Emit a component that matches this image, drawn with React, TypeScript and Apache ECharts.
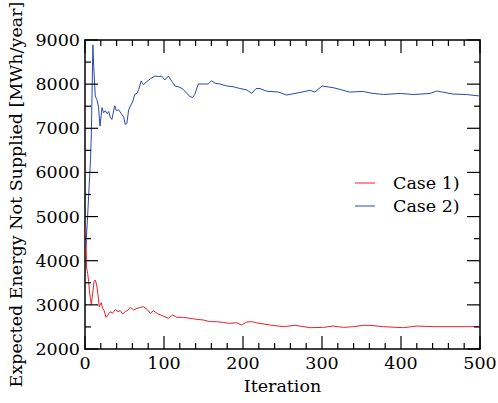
import React, { useEffect, useRef } from "react";
import * as echarts from "echarts";

const case1Iter = [1, 2, 3.4, 4.6, 5.5, 6.8, 8, 9.7, 11.4, 13, 14.8, 16.5, 18, 20.6, 22.3, 24, 26.6, 29, 32, 35, 38.4, 41.8, 44.7, 47.7, 51, 54.4, 57.4, 61.6, 65.8, 70, 74.3, 78.5, 82.7, 86.5, 92.8, 99, 105.5, 111, 116, 124.4, 133, 141.4, 149.7, 158, 166.7, 175, 183.5, 192, 198, 204.7, 211, 217, 221.5, 234, 251, 266, 285, 302, 314, 327, 340, 352, 361, 378, 403, 420, 441, 462, 483, 500];
const case1Val = [4770, 3835, 3715, 3525, 3337, 3150, 3000, 3262, 3525, 3563, 3450, 3225, 2960, 3050, 2920, 2883, 2717, 2770, 2846, 2810, 2898, 2846, 2870, 2795, 2846, 2883, 2943, 2883, 2920, 2943, 2958, 2898, 2808, 2868, 2790, 2747, 2695, 2770, 2717, 2717, 2695, 2672, 2657, 2620, 2620, 2600, 2581, 2595, 2544, 2610, 2620, 2595, 2580, 2544, 2506, 2536, 2483, 2490, 2520, 2490, 2506, 2536, 2536, 2506, 2483, 2520, 2506, 2506, 2506, 2506];

const case2Iter = [1, 3, 5, 7, 8, 10, 11, 13, 15, 17, 19, 21.5, 23.5, 25.7, 28, 30, 32, 34, 37.6, 39.7, 42.6, 46, 49, 51, 53, 55.3, 57.4, 60.3, 63, 65.8, 68, 71, 74, 78.5, 82.7, 88.6, 92.8, 97, 101, 105.5, 110, 114, 120, 124.4, 128.7, 133, 136.3, 139, 143.4, 149.7, 156, 160.3, 164.6, 171, 179, 188, 196, 204.7, 211, 216.5, 221.5, 230, 245, 255, 272, 285, 291, 300, 314, 323, 335, 352, 361, 378, 399, 416, 437, 445, 454, 466, 483, 500];
const case2Val = [4300, 4900, 5600, 6300, 6850, 8890, 8400, 7730, 7650, 7500, 7050, 7470, 7350, 7400, 7330, 7380, 7250, 7200, 7510, 7400, 7420, 7330, 7250, 7090, 7110, 7420, 7500, 7600, 7770, 7790, 7880, 8070, 7990, 8060, 8120, 8185, 8170, 8185, 8094, 8185, 8060, 7958, 7930, 7880, 7792, 7717, 7700, 7770, 8003, 8003, 8003, 8077, 8020, 8003, 7960, 7940, 7902, 7870, 7792, 7900, 7900, 7840, 7820, 7754, 7810, 7860, 7820, 7958, 7920, 7880, 7820, 7835, 7800, 7765, 7790, 7765, 7790, 7845, 7815, 7775, 7765, 7730];

const seriesNames = ["Case 1)", "Case 2)"];
const xTitle = "Iteration";
const yTitle = "Expected Energy Not Supplied [MWh/year]";
const xRange = [0, 500, 100];
const yRange = [2000, 9000, 1000];
const xMinorStep = 20;
const yMinorStep = 500;

export default function App() {
  const ref = useRef<HTMLDivElement>(null);
  useEffect(() => {
    if (!ref.current) return;
    const chart = echarts.init(ref.current, null, { renderer: "svg" });
    const font = "DejaVu Serif";
    const label = { color: "#000", fontFamily: font, fontSize: 17.5 };
    const fmt = (v: number) => String(v);
    const MAJOR = 13, MINOR = 6;

    // inward tick marks: [value, side(0 bottom,1 top,2 left,3 right), length]
    const tickData: number[][] = [];
    for (let v = xRange[0]; v <= xRange[1]; v += xMinorStep) {
      const len = v % xRange[2] === 0 ? MAJOR : MINOR;
      tickData.push([v, 0, len], [v, 1, len]);
    }
    for (let v = yRange[0]; v <= yRange[1]; v += yMinorStep) {
      const len = v % yRange[2] === 0 ? MAJOR : MINOR;
      tickData.push([v, 2, len], [v, 3, len]);
    }

    const frameAxis = (position: string, range: number[], withLabels: boolean) => ({
      type: "value", min: range[0], max: range[1], interval: range[2], position,
      axisLine: { show: true, onZero: false, lineStyle: { color: "#000", width: 1.5 } },
      axisTick: { show: false }, minorTick: { show: false }, splitLine: { show: false },
      axisLabel: withLabels ? { ...label, margin: 5, formatter: fmt } : { show: false },
    });

    chart.setOption({
      animation: false,
      backgroundColor: "#fff",
      grid: { left: 85, right: 18, top: 40, bottom: 54, containLabel: false, outerBoundsMode: "none" },
      legend: {
        orient: "vertical",
        left: 350,
        top: 167,
        icon: "rect",
        itemWidth: 20,
        itemHeight: 1,
        itemGap: 1,
        textStyle: { color: "#000", fontFamily: font, fontSize: 17.5, lineHeight: 22, padding: [0, 0, 0, 13] },
        data: seriesNames,
      },
      xAxis: [
        {
          ...frameAxis("bottom", xRange, true),
          name: xTitle, nameLocation: "middle", nameGap: 25,
          nameTextStyle: { ...label },
        },
        frameAxis("top", xRange, false),
      ],
      yAxis: [
        {
          ...frameAxis("left", yRange, true),
          name: yTitle, nameLocation: "middle", nameGap: 57,
          nameTextStyle: { ...label },
        },
        frameAxis("right", yRange, false),
      ],
      series: [
        {
          name: seriesNames[0], type: "line", symbol: "none", showSymbol: false,
          xAxisIndex: 0, yAxisIndex: 0,
          data: case1Iter.map((x, i) => [x, case1Val[i]]),
          lineStyle: { color: "#e8202f", width: 1 }, itemStyle: { color: "#e8202f" },
        },
        {
          name: seriesNames[1], type: "line", symbol: "none", showSymbol: false,
          xAxisIndex: 0, yAxisIndex: 0,
          data: case2Iter.map((x, i) => [x, case2Val[i]]),
          lineStyle: { color: "#2b48b0", width: 1 }, itemStyle: { color: "#2b48b0" },
        },
        {
          name: "ticks", type: "custom", xAxisIndex: 0, yAxisIndex: 0, clip: false,
          silent: true, z: 5,
          data: tickData,
          renderItem: (_params: any, api: any) => {
            const v = api.value(0);
            const side = api.value(1);
            const len = api.value(2);
            let x1 = 0, y1 = 0, x2 = 0, y2 = 0;
            if (side === 0 || side === 1) {
              const p = api.coord([v, side === 0 ? yRange[0] : yRange[1]]);
              x1 = x2 = p[0];
              y1 = p[1];
              y2 = side === 0 ? p[1] - len : p[1] + len;
            } else {
              const p = api.coord([side === 2 ? xRange[0] : xRange[1], v]);
              y1 = y2 = p[1];
              x1 = p[0];
              x2 = side === 2 ? p[0] + len : p[0] - len;
            }
            return {
              type: "line",
              shape: { x1, y1, x2, y2 },
              style: { stroke: "#000", lineWidth: 1.2 },
            };
          },
        },
      ],
    });
    return () => chart.dispose();
  }, []);
  return <div ref={ref} style={{ position: "fixed", left: 0, top: 0, width: 498, height: 403 }} />;
}
